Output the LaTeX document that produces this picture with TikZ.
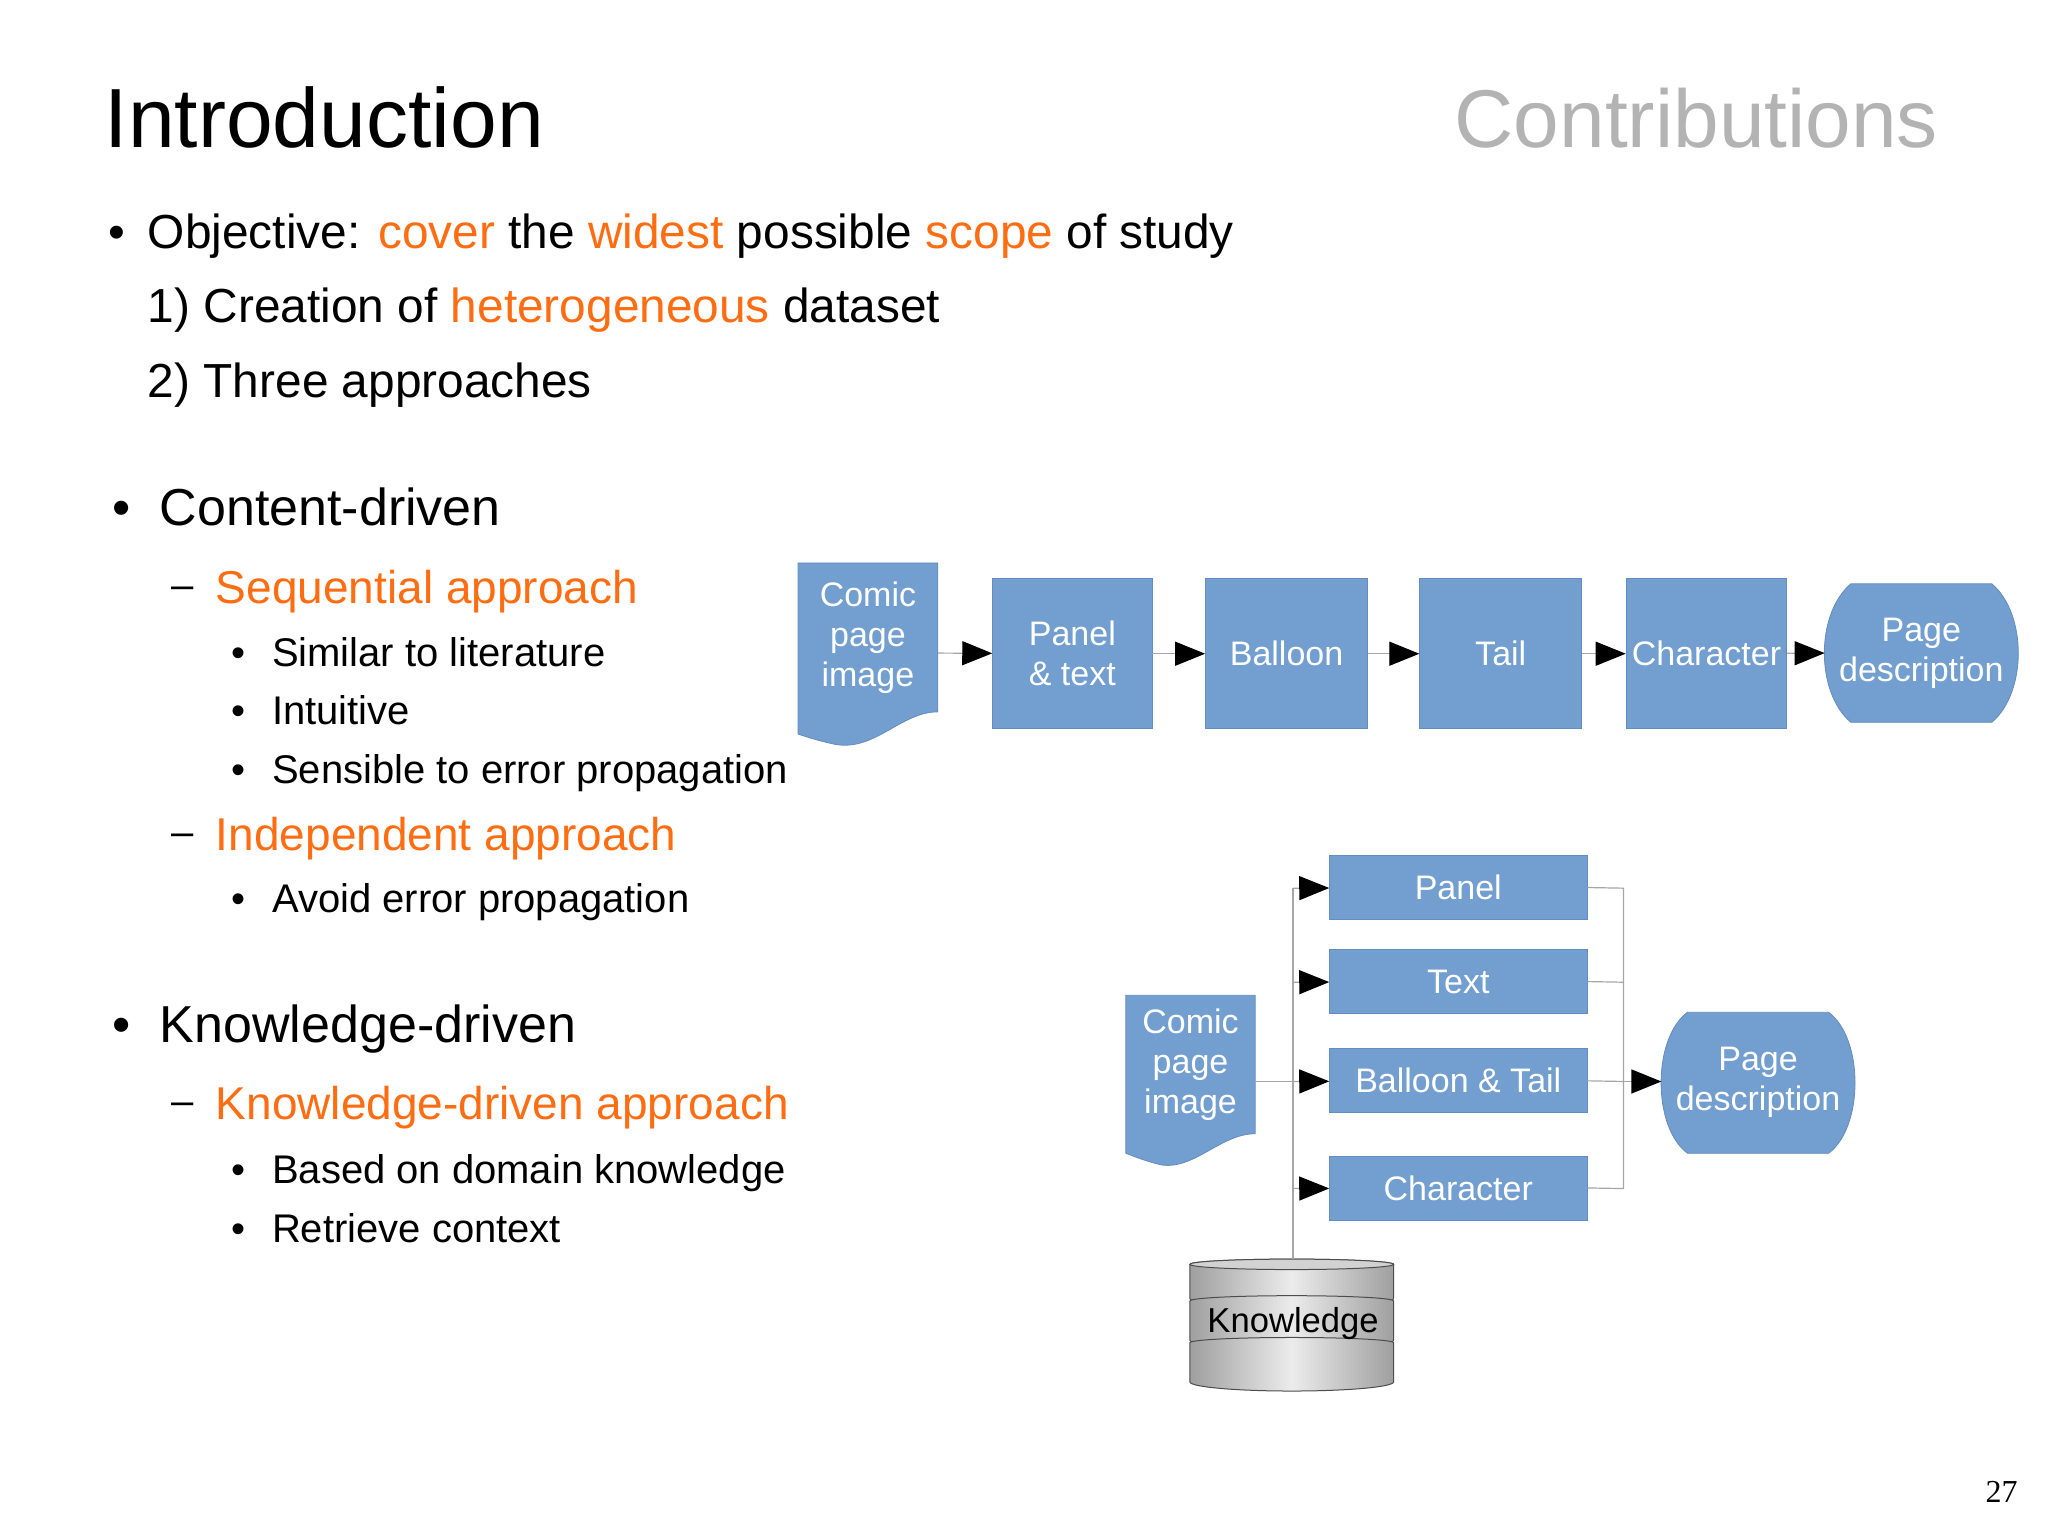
\documentclass[tikz,border=0pt]{standalone}
\usepackage{fontspec}
\setmainfont{Liberation Sans}
\newfontfamily\seriffont{Liberation Serif}
\usetikzlibrary{arrows.meta}
\definecolor{hl}{RGB}{255,109,18}
\definecolor{boxblue}{RGB}{114,159,207}
\definecolor{boxedge}{RGB}{100,140,190}
\definecolor{graytitle}{RGB}{179,179,179}

\begin{document}
\begin{tikzpicture}[x=0.653pt,y=-0.653pt,
  txt/.style={anchor=base west,inner sep=0pt},
  big/.style={font=\fontsize{23.9}{28}\selectfont},
  head/.style={font=\fontsize{26}{30}\selectfont},
  orh/.style={font=\fontsize{23}{28}\selectfont,text=hl},
  sub/.style={font=\fontsize{20}{24}\selectfont},
  box/.style={fill=boxblue,draw=boxedge,line width=0.4pt},
  bsz/.style 2 args={minimum width=#1*0.653pt,minimum height=#2*0.653pt},
  boxtxt/.style={text=white,align=center,inner sep=0pt,font=\fontsize{17}{20}\selectfont},
  link/.style={draw=gray!70,line width=0.6pt},
  arr/.style={link,-{Triangle[length=15pt,width=12pt,fill=black,color=black]}}]
\useasboundingbox (0,0) rectangle (1568,1175);

% titles
\node[txt,font=\fontsize{42}{48}\selectfont] (title) at (80,113) {Introduction};
\node[anchor=base east,inner sep=0pt,text=graytitle,font=\fontsize{41}{48}\selectfont] (contrib) at (1484,113) {Contributions};

% bullet text
\node[txt,big] (b0) at (83,190) {•};
\node[txt,big] (obj) at (113,190) {Objective: \textcolor{hl}{cover} the \textcolor{hl}{widest} possible \textcolor{hl}{scope} of study};
\node[txt,big] (o1) at (113,247) {1) Creation of \textcolor{hl}{heterogeneous} dataset};
\node[txt,big] (o2) at (113,304) {2) Three approaches};

\node[txt,head] (b1) at (86,402) {•};
\node[txt,head] (cd) at (122,402) {Content-driven};
\node[txt,sub] (d1) at (131,458) {–};
\node[txt,orh] (seq) at (165,462) {Sequential approach};
\node[txt,sub] (s1b) at (177,510) {•};
\node[txt,sub] (s1) at (208,510) {Similar to literature};
\node[txt,sub] (s2b) at (177,555) {•};
\node[txt,sub] (s2) at (208,555) {Intuitive};
\node[txt,sub] (s3b) at (177,600) {•};
\node[txt,sub] (s3) at (208,600) {Sensible to error propagation};
\node[txt,sub] (d2) at (131,647) {–};
\node[txt,orh] (ind) at (165,651) {Independent approach};
\node[txt,sub] (i1b) at (177,699) {•};
\node[txt,sub] (i1) at (208,699) {Avoid error propagation};

\node[txt,head] (b2) at (86,798) {•};
\node[txt,head] (kd) at (122,798) {Knowledge-driven};
\node[txt,sub] (d3) at (131,853) {–};
\node[txt,orh] (kda) at (165,857) {Knowledge-driven approach};
\node[txt,sub] (k1b) at (177,906) {•};
\node[txt,sub] (k1) at (208,906) {Based on domain knowledge};
\node[txt,sub] (k2b) at (177,951) {•};
\node[txt,sub] (k2) at (208,951) {Retrieve context};

\node[anchor=base east,inner sep=0pt,font=\seriffont\fontsize{16}{18}\selectfont] (pnum) at (1545,1150) {27};

% ---- sequential pipeline ----
\path[box] (611,431) -- (718,431) -- (718,545) .. controls (690,545) and (670,575) .. (640,570)
  .. controls (630,568) and (620,565) .. (611,562) -- cycle;
\node[boxtxt] (doc1) at (664.5,488) {Comic\\page\\image};
\coordinate (doc1e) at (718,500);
\node[box,bsz={122}{115},boxtxt] (pt) at (821,500.5) {Panel\\\& text};
\node[box,bsz={124}{115},boxtxt] (bal) at (985,500.5) {Balloon};
\node[box,bsz={124}{115},boxtxt] (tail) at (1149,500.5) {Tail};
\node[box,bsz={123}{115},boxtxt] (chr) at (1306.5,500.5) {Character};
\path[box] (1417,447) -- (1525,447) .. controls (1552,470) and (1552,530) .. (1525,553)
  -- (1417,553) .. controls (1390,530) and (1390,470) .. (1417,447) -- cycle;
\node[boxtxt] (pd1) at (1471,500) {Page\\description};
\coordinate (pd1w) at (1397,500);
\draw[arr] (doc1e) -- (pt);
\draw[arr] (pt) -- (bal);
\draw[arr] (bal) -- (tail);
\draw[arr] (tail) -- (chr);
\draw[arr] (chr) -- (pd1w);

% ---- independent / knowledge pipeline ----
\path[box] (862,762) -- (961,762) -- (961,868) .. controls (935,868) and (915,895) .. (890,892)
  .. controls (880,890) and (870,886) .. (862,883) -- cycle;
\node[boxtxt] (doc2) at (911.5,815) {Comic\\page\\image};
\coordinate (doc2e) at (961,828);
\node[box,bsz={197}{49},boxtxt] (p2) at (1116.5,679.5) {Panel};
\node[box,bsz={197}{49},boxtxt] (t2) at (1116.5,751.5) {Text};
\node[box,bsz={197}{49},boxtxt] (bt2) at (1116.5,827.5) {Balloon \& Tail};
\node[box,bsz={197}{49},boxtxt] (c2) at (1116.5,909.5) {Character};
\path[box] (1292,775) -- (1400,775) .. controls (1427,795) and (1427,863) .. (1400,883)
  -- (1292,883) .. controls (1265,863) and (1265,795) .. (1292,775) -- cycle;
\node[boxtxt] (pd2) at (1346,829) {Page\\description};
\coordinate (pd2w) at (1272,828);

% knowledge cylinder
\foreach \ya/\yb in {968/994, 996/1026, 1028/1058}{
  \path[draw=gray!60!black,line width=0.5pt,left color=gray!75,right color=gray!75,middle color=gray!15]
    (911,\ya) -- (911,\yb) arc[start angle=180,end angle=0,x radius=78,y radius=7]
    -- (1067,\ya) arc[start angle=0,end angle=-180,x radius=78,y radius=4] -- cycle;
}
\path[draw=gray!60!black,line width=0.5pt,fill=gray!35] (989,968) ellipse[x radius=78,y radius=4];
\node[inner sep=0pt,font=\fontsize{17.3}{20}\selectfont] (kb) at (990,1013) {Knowledge};

\coordinate (tt) at (990,680);
\coordinate (tb) at (990,964);
\coordinate (j1) at (990,680);
\coordinate (j2) at (990,752);
\coordinate (j3) at (990,828);
\coordinate (j4) at (990,910);
\draw[link] (tt) -- (tb);
\draw[link] (doc2e) -- (j3);
\draw[arr] (j1) -- (p2);
\draw[arr] (j2) -- (t2);
\draw[arr] (j3) -- (bt2);
\draw[arr] (j4) -- (c2);

\coordinate (r1) at (1243,680);
\coordinate (r2) at (1243,752);
\coordinate (r3) at (1243,828);
\coordinate (r4) at (1243,910);
\draw[link] (p2.east) -- (r1) -- (r4) -- (c2.east);
\draw[link] (t2.east) -- (r2);
\draw[link] (bt2.east) -- (r3);
\draw[arr] (r3) -- (pd2w);
\end{tikzpicture}
\end{document}
